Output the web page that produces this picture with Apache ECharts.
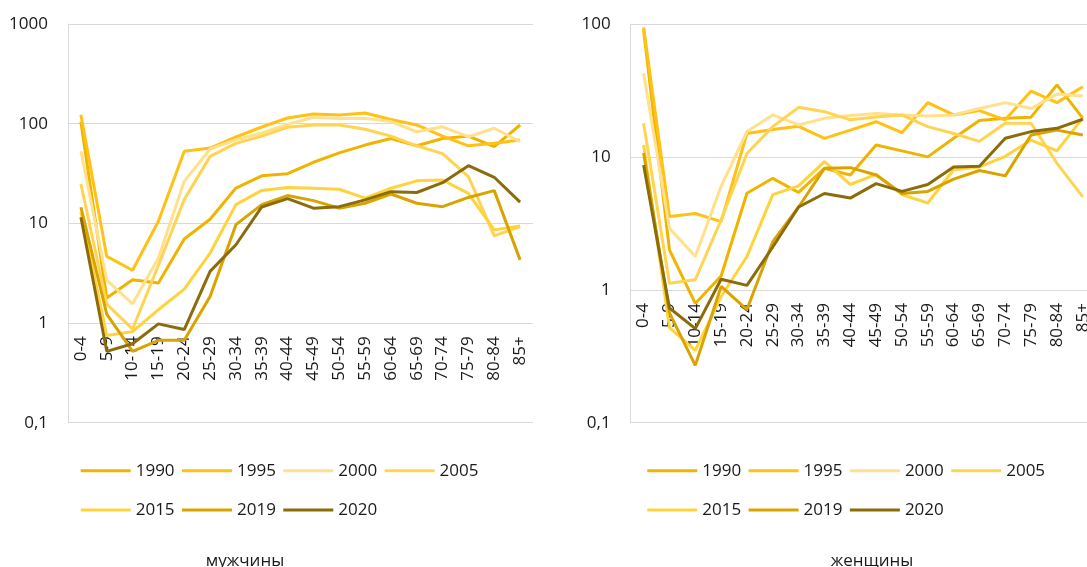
<!DOCTYPE html>
<html>
<head>
<meta charset="utf-8">
<script src="https://cdn.jsdelivr.net/npm/echarts@6/dist/echarts.min.js"></script>
<style>
  html, body { margin: 0; padding: 0; background: #fff; overflow: hidden; }
  /* правая панель в оригинале обрезана краем картинки */
  #chart { width: 1110px; height: 567px; }
</style>
</head>
<body>
<div id="chart"></div>
<script>
// возрастные группы
const ageGroups = ['0-4', '5-9', '10-14', '15-19', '20-24', '25-29', '30-34', '35-39', '40-44',
  '45-49', '50-54', '55-59', '60-64', '65-69', '70-74', '75-79', '80-84', '85+'];
const years = ['1990', '1995', '2000', '2005', '2015', '2019', '2020'];
const yearColors = ['#F0B400', '#FFC114', '#FFE08C', '#FFD452', '#FFD33C', '#D9A300', '#8C6C0A'];

// мужчины
const men1990 = [104, 1.78, 2.72, 2.52, 6.97, 11, 22.6, 30, 31.5, 41, 51, 61, 71, 60, 71, 75, 58.8, 97];
const men1995 = [123, 4.67, 3.38, 10.5, 52.8, 57, 73.5, 92.6, 114, 125, 122, 128, 110, 97, 75, 60, 63.5, 68.5];
const men2000 = [52.8, 2.7, 1.56, 4.5, 26.4, 55.7, 69, 80.6, 98, 116, 113, 113, 105, 83, 93, 74, 90, 66];
const men2005 = [24.8, 1.55, 0.87, 3.8, 17.3, 47, 63.5, 75, 92, 97, 97, 88, 75, 60, 50, 29.4, 7.5, 9.3];
const men2015 = [13, 0.75, 0.82, 1.36, 2.19, 5.04, 15.4, 21.4, 22.9, 22.5, 22, 17.9, 22.5, 26.7, 27.2, 20, 8.6, 9.4];
const men2019 = [14.5, 1.23, 0.52, 0.67, 0.67, 1.85, 9.7, 15.4, 19, 16.9, 14.2, 15.9, 19.7, 15.9, 14.7, 18.2, 21.3, 4.3];
const men2020 = [11.5, 0.52, 0.62, 0.98, 0.86, 3.3, 6.1, 14.6, 17.7, 14.2, 14.7, 17.2, 20.8, 20.4, 25.6, 37.9, 29, 16.3];

// женщины
const women1990 = [90, 2.0, 0.79, 1.27, 5.33, 6.9, 5.4, 8.2, 7.3, 12.3, 11.1, 10, 13.8, 18.8, 19.5, 19.9, 34.8, 19.6];
const women1995 = [94, 3.56, 3.75, 3.26, 15, 16.1, 17, 13.8, 15.9, 18.4, 15.2, 25.6, 20.7, 22.3, 19, 31.3, 25.6, 33.7];
const women2000 = [42.6, 2.9, 1.78, 6.0, 15.5, 20.7, 17.4, 19.5, 20.5, 21.2, 20.7, 20.3, 20.7, 23.1, 25.6, 23.1, 29.7, 28.7];
const women2005 = [17.9, 1.12, 1.19, 3.36, 10.6, 16.9, 23.6, 21.9, 19, 20, 20.7, 16.9, 15, 13.1, 17.9, 17.9, 8.95, 5.0];
const women2015 = [12.3, 0.52, 0.35, 0.89, 1.78, 5.2, 6.06, 9.2, 6.2, 7.4, 5.2, 4.5, 8.0, 8.4, 10.1, 13.4, 11.1, 19.6];
const women2019 = [10.7, 0.67, 0.27, 1.06, 0.71, 2.3, 4.2, 8.2, 8.3, 7.3, 5.3, 5.5, 6.8, 7.9, 7.2, 14.6, 15.9, 14.6];
const women2020 = [8.7, 0.73, 0.51, 1.2, 1.08, 2.1, 4.2, 5.3, 4.9, 6.3, 5.5, 6.2, 8.4, 8.5, 13.8, 15.5, 16.4, 19.2];

const menData = [men1990, men1995, men2000, men2005, men2015, men2019, men2020];
const womenData = [women1990, women1995, women2000, women2005, women2015, women2019, women2020];

const FONT = '"Open Sans", sans-serif';
const TXT = '#1a1a1a';
const GRID_LINE = '#d9d9d9';

var chartDom = document.getElementById('chart');
var myChart = echarts.init(chartDom, null, { renderer: 'canvas' });

const logLabel = (v) => v < 1 ? '0,1' : String(Math.round(v));

const makeY = (gridIndex, max) => ({
  type: 'log',
  logBase: 10,
  gridIndex: gridIndex,
  min: 0.1,
  max: max,
  axisLine: { show: true, lineStyle: { color: GRID_LINE, width: 1 } },
  axisTick: { show: false },
  splitLine: { show: true, lineStyle: { color: GRID_LINE, width: 1 } },
  axisLabel: { formatter: logLabel, color: TXT, fontFamily: FONT, fontSize: 17, margin: 20 }
});

// подписи оси X стоят на уровне 1 (offset вверх от низа сетки)
const makeX = (gridIndex, offset) => ({
  type: 'category',
  gridIndex: gridIndex,
  data: ageGroups,
  boundaryGap: true,
  offset: offset,
  axisLine: { show: false },
  axisTick: { show: false },
  axisLabel: { rotate: 90, interval: 0, color: TXT, fontFamily: FONT, fontSize: 17, margin: 13 }
});

const series = [];
years.forEach((y, i) => {
  series.push({
    name: y, type: 'line', xAxisIndex: 0, yAxisIndex: 0, data: menData[i],
    symbol: 'none', smooth: false,
    lineStyle: { width: 3, color: yearColors[i] }, itemStyle: { color: yearColors[i] }
  });
});
years.forEach((y, i) => {
  series.push({
    name: y, type: 'line', xAxisIndex: 1, yAxisIndex: 1, data: womenData[i],
    symbol: 'none', smooth: false,
    lineStyle: { width: 3, color: yearColors[i] }, itemStyle: { color: yearColors[i] }
  });
});

// легенда: по одному элементу, чтобы стояли как в оригинале
const legends = [];
const legendStarts = [80.7, 647.3];
legendStarts.forEach((x0) => {
  years.forEach((y, i) => {
    const row = i < 4 ? 0 : 1;
    const col = i < 4 ? i : i - 4;
    legends.push({
      data: [{ name: y, icon: 'rect' }],
      left: x0 + col * 101.3,
      top: (row === 0 ? 470.7 : 510) - 10,
      padding: 0,
      itemWidth: 50,
      itemHeight: 3,
      itemGap: 0,
      textStyle: { color: TXT, fontFamily: FONT, fontSize: 17, lineHeight: 20 }
    });
  });
});

var option = {
  animation: false,
  backgroundColor: '#fff',
  title: [
    { text: 'мужчины', left: 245, top: 550, padding: 0, textAlign: 'center',
      textStyle: { color: TXT, fontFamily: FONT, fontSize: 17, fontWeight: 'normal', lineHeight: 22 } },
    { text: 'женщины', left: 872, top: 550, padding: 0, textAlign: 'center',
      textStyle: { color: TXT, fontFamily: FONT, fontSize: 17, fontWeight: 'normal', lineHeight: 22 } }
  ],
  legend: legends,
  grid: [
    { left: 68, top: 24, width: 465, height: 398.7, containLabel: false },
    { left: 630.7, top: 24, width: 465, height: 398.7, containLabel: false }
  ],
  xAxis: [makeX(0, -99.4), makeX(1, -132.7)],
  yAxis: [makeY(0, 1000), makeY(1, 100)],
  series: series
};

option && myChart.setOption(option);
</script>
</body>
</html>
